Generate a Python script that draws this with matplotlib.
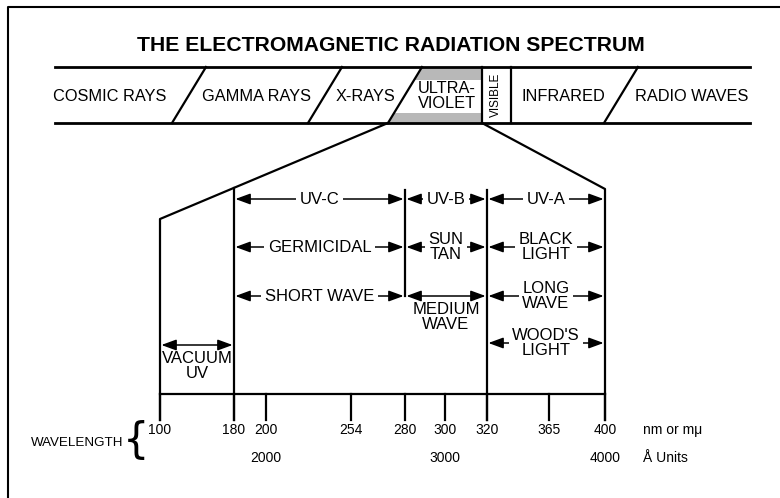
import matplotlib.pyplot as plt
import numpy as np

plt.rcParams['font.family'] = ['Liberation Sans', 'DejaVu Sans']

# ---- data ----
spectrum_names = ['COSMIC RAYS', 'GAMMA RAYS', 'X-RAYS', 'ULTRA-\nVIOLET', 'VISIBLE', 'INFRARED', 'RADIO WAVES']
wl_nm = [100, 180, 200, 254, 280, 300, 320, 365, 400]
wl_angstrom = [2000, 3000, 4000]
uv_names = ['UV-C', 'UV-B', 'UV-A']
uv_ranges = [(180, 280), (280, 320), (320, 400)]
use_names = ['GERMICIDAL', 'SUN\nTAN', 'BLACK\nLIGHT']
wave_names = ['SHORT WAVE', 'MEDIUM\nWAVE', 'LONG\nWAVE']
woods_name, woods_range = "WOOD'S\nLIGHT", (320, 400)
vacuum_name, vacuum_range = 'VACUUM\nUV', (100, 180)

# ---- layout (pixel space) ----
tick_x = [160, 234, 266, 351, 405, 445, 487, 549, 605]   # schematic, not to scale


def nx(v):
    return np.interp(v, wl_nm, tick_x)


fig = plt.figure(figsize=(7.8, 4.98), dpi=100)
ax = fig.add_axes([0, 0, 1, 1])
ax.set_xlim(0, 780)
ax.set_ylim(498, 0)
ax.axis('off')

# frame (open at right/bottom, as cropped)
ax.plot([8, 8, 780], [498, 7, 7], color='black', lw=1.5)

ax.text(391, 45, 'THE ELECTROMAGNETIC RADIATION SPECTRUM', ha='center', va='center',
        fontsize=15.2, fontweight='bold')

# ---- spectrum band ----
y_top, y_bot = 67, 123
slope = (422 - 388) / (y_bot - y_top)


def slash_x(xb, y):
    return xb + (y_bot - y) * slope


# gray ultraviolet strips
for ya, yb in [(y_top, 80), (113, y_bot)]:
    ax.fill([slash_x(388, ya), 482, 482, slash_x(388, yb)], [ya, ya, yb, yb],
            color='#b8b8b8', lw=0, zorder=1)

ax.plot([55, 750], [y_top, y_top], color='black', lw=2, zorder=2)
ax.plot([55, 750], [y_bot, y_bot], color='black', lw=2, zorder=2)
for xb in [172, 308, 388, 604]:
    ax.plot([xb, slash_x(xb, y_top)], [y_bot, y_top], color='black', lw=1.6, zorder=2)
for xv in [482, 511]:
    ax.plot([xv, xv], [y_top, y_bot], color='black', lw=1.6, zorder=2)

band_cx = [110, 256, 366, 447, 496, 563, 692]
for name, cx in zip(spectrum_names, band_cx):
    if name == 'VISIBLE':
        ax.text(cx, 95, name, ha='center', va='center', rotation=90, fontsize=8.5)
    else:
        ax.text(cx, 96, name, ha='center', va='center', fontsize=11.8, linespacing=1.0)

# ---- expanded UV diagram outline ----
lk = (219 - y_bot) / (nx(100) - 388)
ax.plot([388, nx(100), nx(100)], [y_bot, 219, 420], color='black', lw=1.6)
ax.plot([482, nx(400), nx(400)], [y_bot, 189, 420], color='black', lw=1.6)
ax.plot([nx(180)] * 2, [y_bot + lk * (nx(180) - 388), 420], color='black', lw=1.6)
ax.plot([nx(320)] * 2, [190, 420], color='black', lw=1.6)
ax.plot([nx(280)] * 2, [190, 296], color='black', lw=1.6)

# wavelength axis
ax.plot([nx(100), nx(400)], [394, 394], color='black', lw=1.6)
for w in wl_nm:
    ax.plot([nx(w)] * 2, [394, 420], color='black', lw=1.6)
    ax.text(nx(w), 430, str(w), ha='center', va='center', fontsize=10)
for a in wl_angstrom:
    ax.text(nx(a / 10), 458, str(a), ha='center', va='center', fontsize=10)
ax.text(643, 430, 'nm or m\u03bc', ha='left', va='center', fontsize=10)
ax.text(643, 458, '\u00c5 Units', ha='left', va='center', fontsize=10)
ax.text(77, 443, 'WAVELENGTH', ha='center', va='center', fontsize=9.6)
ax.text(136, 441, '{', ha='center', va='center', fontsize=30, family='DejaVu Sans')

# ---- range arrows ----
bbox = dict(boxstyle='square,pad=0.2', fc='white', ec='none')


def range_arrow(rng, y, label, ty=None):
    x1, x2 = nx(rng[0]), nx(rng[1])
    ax.annotate('', xy=(x2, y), xytext=(x1, y),
                arrowprops=dict(arrowstyle='<|-|>,head_length=0.9,head_width=0.33',
                                color='black', lw=1.1, shrinkA=1, shrinkB=1), zorder=2)
    ax.text((x1 + x2) / 2, y if ty is None else ty, label, ha='center', va='center',
            fontsize=12, linespacing=0.95, bbox=bbox if ty is None else None, zorder=3)


for name, rng in zip(uv_names, uv_ranges):
    range_arrow(rng, 199, name)
for name, rng in zip(use_names, uv_ranges):
    range_arrow(rng, 247, name)
for name, rng in zip(wave_names, uv_ranges):
    if name.startswith('MEDIUM'):
        range_arrow(rng, 296, name, ty=317)
    else:
        range_arrow(rng, 296, name)
range_arrow(woods_range, 343, woods_name)
range_arrow(vacuum_range, 345, vacuum_name, ty=366)

plt.savefig('out.png', dpi=100, facecolor='white')
